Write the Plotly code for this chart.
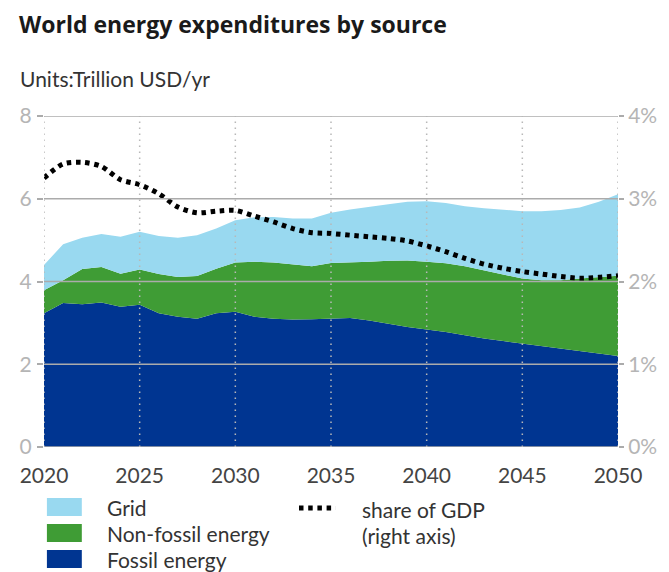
import plotly.graph_objects as go

# ---------------- data ----------------
years = list(range(2020, 2051))
fossil = [3.23, 3.48, 3.45, 3.49, 3.39, 3.44, 3.23, 3.15, 3.10, 3.23, 3.27,
          3.15, 3.10, 3.08, 3.09, 3.11, 3.12, 3.06, 2.98, 2.90, 2.84,
          2.78, 2.70, 2.62, 2.56, 2.50, 2.44, 2.38, 2.32, 2.26, 2.20]
# cumulative top of non-fossil band (fossil + non-fossil)
nonfossil_top = [3.79, 4.03, 4.30, 4.35, 4.19, 4.29, 4.18, 4.11, 4.13, 4.31, 4.46,
                 4.48, 4.46, 4.42, 4.37, 4.45, 4.46, 4.48, 4.50, 4.51, 4.48,
                 4.44, 4.37, 4.27, 4.17, 4.07, 4.03, 4.03, 4.07, 4.11, 4.14]
# cumulative top of grid band (total)
grid_top = [4.40, 4.90, 5.06, 5.15, 5.08, 5.20, 5.10, 5.06, 5.12, 5.28, 5.48,
            5.55, 5.56, 5.52, 5.52, 5.66, 5.74, 5.81, 5.87, 5.93, 5.94,
            5.90, 5.82, 5.77, 5.73, 5.70, 5.70, 5.73, 5.79, 5.93, 6.11]
nonfossil = [round(t - f, 3) for t, f in zip(nonfossil_top, fossil)]
grid = [round(t - n, 3) for t, n in zip(grid_top, nonfossil_top)]
share_gdp = [3.25, 3.42, 3.44, 3.39, 3.23, 3.17, 3.06, 2.90, 2.83, 2.85, 2.86,
             2.79, 2.72, 2.64, 2.59, 2.58, 2.56, 2.54, 2.52, 2.49, 2.43,
             2.36, 2.28, 2.21, 2.16, 2.12, 2.09, 2.06, 2.04, 2.05, 2.07]

left_ticks = [0, 2, 4, 6, 8]
right_ticks = [0, 1, 2, 3, 4]
right_labels = ["0%", "1%", "2%", "3%", "4%"]
x_ticks = [2020, 2025, 2030, 2035, 2040, 2045, 2050]

series_names = ["Fossil energy", "Non-fossil energy", "Grid"]
line_name = "share of GDP"
line_note = "(right axis)"
title_text = "World energy expenditures by source"
units_text = "Units:Trillion USD/yr"

# ---------------- style ----------------
C_FOSSIL = "#003591"
C_NONFOSSIL = "#3f9c35"
C_GRID = "#99d9f0"
C_GRIDLINE = "#ababab"
FONT = "Lato"
TFONT = "Open Sans"
W, H = 669, 572
# plot area in page pixels: x 44..636, y 116..447
L, R = 44, W - 636
T, B = 116, H - 447
PW, PH = W - L - R, H - T - B
DASH = "4.5px,4.7px"


def px(xp):
    return (xp - L) / PW


def py(yp):
    return (H - B - yp) / PH


fig = go.Figure()
fig.add_trace(go.Scatter(x=years, y=fossil, name=series_names[0], stackgroup="s",
                         mode="lines", line=dict(width=0, color=C_FOSSIL),
                         fillcolor=C_FOSSIL, showlegend=False, hoverinfo="skip"))
fig.add_trace(go.Scatter(x=years, y=nonfossil, name=series_names[1], stackgroup="s",
                         mode="lines", line=dict(width=0, color=C_NONFOSSIL),
                         fillcolor=C_NONFOSSIL, showlegend=False, hoverinfo="skip"))
fig.add_trace(go.Scatter(x=years, y=grid, name=series_names[2], stackgroup="s",
                         mode="lines", line=dict(width=0, color=C_GRID),
                         fillcolor=C_GRID, showlegend=False, hoverinfo="skip"))
fig.add_trace(go.Scatter(x=years, y=share_gdp, name=line_name, yaxis="y2",
                         mode="lines", line=dict(color="black", width=5, dash=DASH,
                                                 shape="spline", smoothing=0.8),
                         showlegend=False, hoverinfo="skip"))

shapes = []
# horizontal gridlines above the areas
for v in left_ticks:
    shapes.append(dict(type="line", xref="paper", yref="y", x0=0, x1=1.0, y0=v, y1=v,
                       line=dict(color=C_GRIDLINE, width=1.5), layer="above"))
# vertical dotted gridlines
for v in x_ticks:
    shapes.append(dict(type="line", xref="x", yref="paper", x0=v, x1=v, y0=0, y1=1,
                       line=dict(color="#b8b8b8", width=1.5, dash="1.5px,4.5px"),
                       layer="above"))

# manual legend (page pixel positions)
leg_items = [(series_names[2], C_GRID, 498, 516),
             (series_names[1], C_NONFOSSIL, 524, 542),
             (series_names[0], C_FOSSIL, 550, 568)]
annotations = []
LEG_FONT = dict(family=FONT, size=21, color="#333333")
for name, col, y0, y1 in leg_items:
    shapes.append(dict(type="rect", xref="paper", yref="paper", x0=px(47), x1=px(83),
                       y0=py(y1), y1=py(y0), line=dict(width=0), fillcolor=col))
    annotations.append(dict(xref="paper", yref="paper", x=px(107), y=py((y0 + y1) / 2),
                            text=name, showarrow=False, xanchor="left", yanchor="middle",
                            font=LEG_FONT))
shapes.append(dict(type="line", xref="paper", yref="paper", x0=px(307), x1=px(345),
                   y0=py(508), y1=py(508), line=dict(color="black", width=5, dash=DASH)))
annotations.append(dict(xref="paper", yref="paper", x=px(370), y=py(509),
                        text=line_name, showarrow=False, xanchor="left", yanchor="middle",
                        font=LEG_FONT))
annotations.append(dict(xref="paper", yref="paper", x=px(370), y=py(535),
                        text=line_note, showarrow=False, xanchor="left", yanchor="middle",
                        font=LEG_FONT))
annotations.append(dict(xref="paper", yref="paper", x=px(17), y=py(78), text=units_text,
                        showarrow=False, xanchor="left", yanchor="middle",
                        font=dict(family=FONT, size=21, color="#333333")))
annotations.append(dict(xref="paper", yref="paper", x=px(16), y=py(24),
                        text="<b>" + title_text + "</b>",
                        showarrow=False, xanchor="left", yanchor="middle",
                        font=dict(family=TFONT, size=23, color="#1a1a1a")))

fig.update_layout(
    width=W, height=H,
    margin=dict(l=L, r=R, t=T, b=B, pad=0),
    paper_bgcolor="white", plot_bgcolor="white",
    showlegend=False,
    xaxis=dict(range=[2020, 2050], tickvals=x_ticks, showgrid=False, zeroline=False,
               showline=False, ticks="", tickfont=dict(family=FONT, size=21, color="#444444"),
               ticklabelstandoff=14),
    yaxis=dict(range=[0, 8], tickvals=left_ticks, showgrid=False, zeroline=False,
               showline=False, ticks="outside", ticklen=6, tickwidth=1.5,
               tickcolor=C_GRIDLINE, tickfont=dict(family=FONT, size=21, color="#b5b5b5"),
               ticklabelstandoff=1),
    yaxis2=dict(range=[0, 4], tickvals=right_ticks, ticktext=right_labels, overlaying="y",
                side="right", showgrid=False, zeroline=False, showline=False,
                ticks="outside", ticklen=5, tickwidth=1.5, tickcolor=C_GRIDLINE,
                tickfont=dict(family=FONT, size=21, color="#b5b5b5"), ticklabelstandoff=0),
    shapes=shapes,
    annotations=annotations,
)

fig.write_html("out.html", config={"displayModeBar": False},
               post_script="document.body.style.margin='0';document.body.style.overflow='hidden';")
